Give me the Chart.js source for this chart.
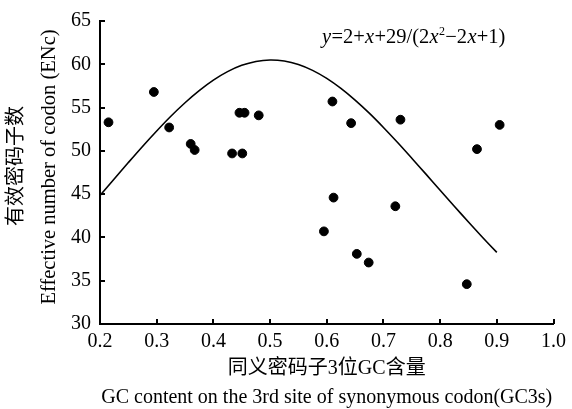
<!DOCTYPE html>
<html>
<head>
<meta charset="utf-8">
<script src="https://cdn.jsdelivr.net/npm/chart.js@4"></script>
<style>
  html, body { margin: 0; padding: 0; background: #fff; }
  #wrap { width: 572px; height: 409px; }
</style>
</head>
<body>
<div id="wrap"><canvas id="encChart" width="572" height="409"></canvas></div>
<script>
// scatter values (GC3s, ENc)
const gc3s = [0.215, 0.295, 0.322, 0.360, 0.367, 0.433, 0.451, 0.446, 0.455, 0.480,
              0.610, 0.643, 0.730, 0.865, 0.905, 0.612, 0.721, 0.595, 0.653, 0.674, 0.847];
const enc  = [53.3, 56.8, 52.7, 50.8, 50.1, 49.7, 49.7, 54.4, 54.4, 54.1,
              55.7, 53.2, 53.6, 50.2, 53.0, 44.6, 43.6, 40.7, 38.1, 37.1, 34.6];

// expected ENc curve as drawn
const curveX = [0.200, 0.225, 0.250, 0.275, 0.300, 0.325, 0.350, 0.375, 0.400, 0.425,
                0.450, 0.475, 0.500, 0.525, 0.550, 0.575, 0.600, 0.625, 0.650, 0.675,
                0.700, 0.725, 0.750, 0.775, 0.800, 0.825, 0.850, 0.875, 0.900];
const curveY = [44.85, 46.76, 48.65, 50.51, 52.30, 54.00, 55.56, 56.96, 58.17, 59.15,
                59.88, 60.33, 60.50, 60.38, 59.98, 59.30, 58.37, 57.21, 55.86, 54.35,
                52.70, 50.96, 49.15, 47.31, 45.45, 43.60, 41.78, 40.00, 38.27];

const xTicks = [0.2, 0.3, 0.4, 0.5, 0.6, 0.7, 0.8, 0.9, 1.0];
const yTicks = [30, 35, 40, 45, 50, 55, 60, 65];

const serif = '"Liberation Serif", "Noto Sans CJK SC", serif';

// inward tick marks, axis titles and the equation
const extras = {
  id: 'extras',
  afterDraw(chart) {
    const c = chart.ctx;
    const xs = chart.scales.x, ys = chart.scales.y;
    const area = chart.chartArea;
    c.save();
    c.strokeStyle = '#000';
    c.lineWidth = 2;
    c.beginPath();
    xTicks.forEach(v => {
      const px = Math.round(xs.getPixelForValue(v));
      c.moveTo(px, area.bottom);
      c.lineTo(px, area.bottom - 5);
    });
    yTicks.forEach(v => {
      const py = Math.round(ys.getPixelForValue(v));
      c.moveTo(area.left, py);
      c.lineTo(area.left + 5, py);
    });
    c.stroke();

    c.fillStyle = '#000';
    c.textAlign = 'center';
    c.textBaseline = 'middle';
    const midX = (area.left + area.right) / 2;
    c.font = '20px ' + serif;
    c.fillText('同义密码子3位GC含量', midX, 369);
    c.font = '20px ' + serif;
    c.fillText('GC content on the 3rd site of synonymous codon(GC3s)', midX, 398);

    c.save();
    c.translate(17, 166);
    c.rotate(-Math.PI / 2);
    c.font = '20px ' + serif;
    c.fillText('有效密码子数', 0, 0);
    c.restore();
    c.save();
    c.translate(50, 167);
    c.rotate(-Math.PI / 2);
    c.font = '20.5px ' + serif;
    c.fillText('Effective number of codon (ENc)', 0, 0);
    c.restore();

    // y=2+x+29/(2x²−2x+1)
    const parts = [
      ['y', 'italic 20.5px'], ['=2+', '20.5px'], ['x', 'italic 20.5px'], ['+29/(2', '20.5px'],
      ['x', 'italic 20.5px'], ['2', '12px', -8], ['\u22122', '20.5px'], ['x', 'italic 20.5px'], ['+1)', '20.5px']
    ];
    c.textAlign = 'left';
    c.textBaseline = 'alphabetic';
    let tx = 322;
    parts.forEach(p => {
      c.font = p[1] + ' ' + serif;
      c.fillText(p[0], tx, 43 + (p[2] || 0));
      tx += c.measureText(p[0]).width + 0.3;
    });
    c.restore();
  }
};

const ctx = document.getElementById('encChart').getContext('2d');
const encChart = new Chart(ctx, {
  type: 'scatter',
  data: {
    datasets: [
      {
        label: 'ENc',
        data: gc3s.map((v, i) => ({ x: v, y: enc[i] })),
        backgroundColor: '#000',
        borderColor: '#000',
        pointRadius: 4.4,
        pointHoverRadius: 4.4
      },
      {
        label: 'expected',
        data: curveX.map((v, i) => ({ x: v, y: curveY[i] })),
        showLine: true,
        borderColor: '#000',
        borderWidth: 1.6,
        pointRadius: 0,
        tension: 0.3
      }
    ]
  },
  options: {
    responsive: false,
    animation: false,
    layout: { padding: { left: 40, top: 16, right: 15, bottom: 0 } },
    plugins: { legend: { display: false }, tooltip: { enabled: false } },
    scales: {
      x: {
        type: 'linear',
        min: 0.2, max: 1.0,
        afterFit(scale) { scale.height = 85; },
        afterBuildTicks(scale) { scale.ticks = xTicks.map(v => ({ value: v })); },
        grid: { display: false, drawTicks: false },
        border: { display: true, color: '#000', width: 2 },
        ticks: {
          padding: 6,
          color: '#000',
          font: { family: serif, size: 20 },
          callback: v => v.toFixed(1)
        }
      },
      y: {
        min: 30, max: 65,
        afterFit(scale) { scale.width = 60; },
        afterBuildTicks(scale) { scale.ticks = yTicks.map(v => ({ value: v })); },
        grid: { display: false, drawTicks: false },
        border: { display: true, color: '#000', width: 2 },
        ticks: {
          padding: 9,
          color: '#000',
          font: { family: serif, size: 20 },
          callback: v => v
        }
      }
    }
  },
  plugins: [extras]
});
</script>
</body>
</html>
